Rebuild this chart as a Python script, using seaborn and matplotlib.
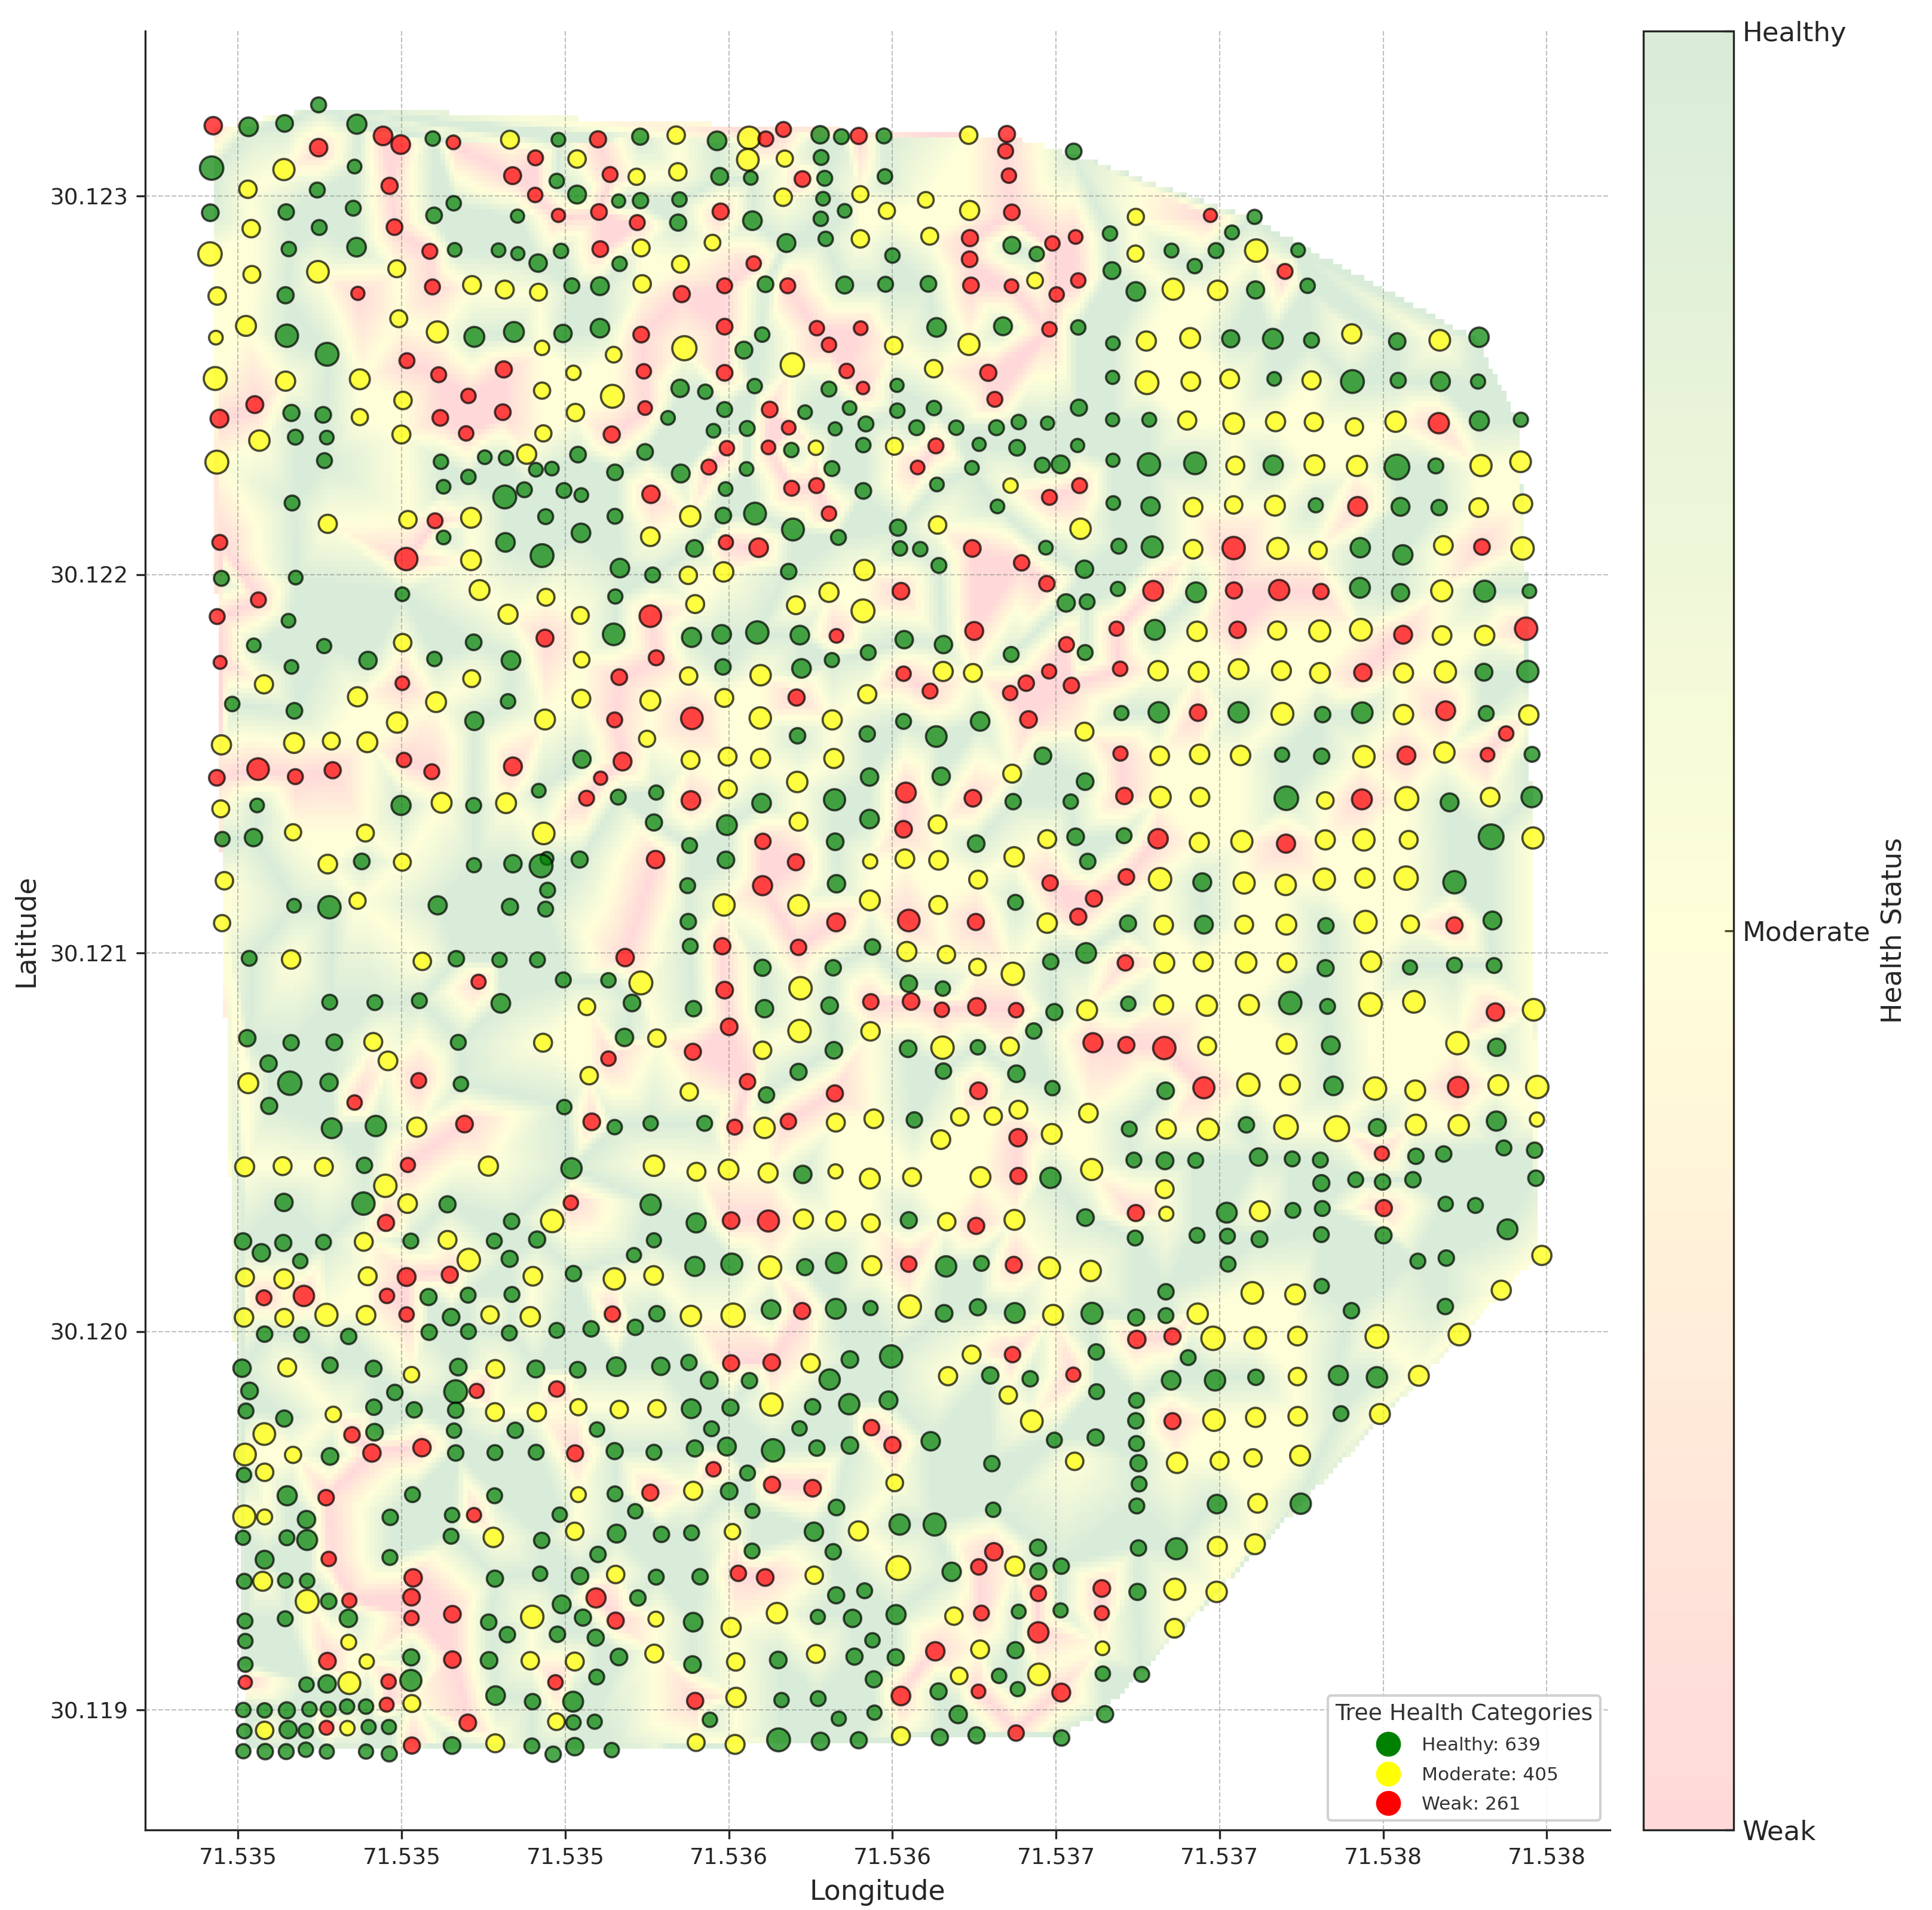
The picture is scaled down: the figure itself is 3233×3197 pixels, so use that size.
# Tree health survey map
import numpy as np
import pandas as pd
import matplotlib
matplotlib.use("Agg")
import matplotlib.pyplot as plt
import seaborn as sns
from matplotlib.colors import LinearSegmentedColormap
from matplotlib.lines import Line2D
from matplotlib.tri import Triangulation, LinearTriInterpolator

# Trees, block by block
# (longitude - 71.534 in 1e-6 deg, latitude - 30.118 in 1e-6 deg, crown size, status)
trees_north_west = [
(424,5186,7,'W'),(532,5183,7.5,'H'),(642,5192,6.7,'H'),(746,5241,6,'H'),(863,5190,7.7,'H'),(943,5159,7.5,'W'),(997,5136,7.5,'W'),(1095,5152,5.8,'H'),(1158,5142,5.5,'W'),(1331,5149,7.2,'M'),(1479,5149,5.5,'H'),(1600,5150,6.5,'W'),(1729,5157,6.5,'H'),(746,5128,7,'W'),(1409,5101,6,'W'),(1536,5098,7,'M'),(419,5074,9.4,'H'),(640,5070,8.5,'M'),(856,5078,5.5,'H'),(1339,5054,6.8,'W'),(1474,5040,5.8,'H'),(1637,5057,6,'W'),(1718,5051,6.5,'M'),(530,5018,7,'M'),(742,5016,6,'H'),(963,5027,6.5,'W'),(1408,5003,5.8,'W'),(1536,5004,7.2,'H'),(1663,4987,5.3,'H'),(1730,4988,6.2,'H'),
(415,4956,6.7,'H'),(647,4958,6.2,'H'),(852,4968,6,'H'),(1159,4981,5.8,'H'),(1099,4949,6.3,'H'),(1354,4947,5.3,'H'),(1479,4949,5.3,'W'),(1603,4958,6.3,'W'),(1720,4930,6,'W'),(540,4914,7,'M'),(748,4917,6,'H'),(978,4918,6.3,'W'),(414,4847,9.4,'M'),(655,4860,5.8,'H'),(862,4865,7.5,'H'),(1086,4854,6,'W'),(1162,4858,5.5,'H'),(1296,4857,5.5,'H'),(1355,4848,5.3,'H'),(1487,4855,5.8,'H'),(1607,4860,6.3,'W'),(1732,4863,6.8,'M'),(1417,4823,7,'H'),(1666,4821,5.8,'H'),(985,4808,6.8,'M'),(542,4793,6.8,'M'),(744,4800,8.7,'M'),
(436,4736,7,'M'),(645,4738,6.5,'H'),(866,4743,5.3,'W'),(1094,4760,6,'W'),(1215,4765,7.2,'M'),(1315,4753,7.2,'M'),(1418,4746,6.8,'M'),(1520,4763,6,'H'),(1606,4762,7.2,'H'),(1735,4768,7,'M'),(991,4676,6.8,'M'),(524,4657,8,'M'),(432,4626,5.5,'M'),(649,4631,9,'H'),(1109,4641,8.5,'M'),(1222,4628,8,'H'),(1343,4641,8,'H'),(1493,4637,7,'H'),(1606,4651,7.5,'H'),(1732,4634,6.3,'W'),(1429,4599,5.8,'M'),(1648,4581,6.3,'M'),(772,4582,9.2,'H'),(1016,4565,6,'W'),
(430,4518,9.2,'M'),(645,4511,7.7,'M'),(872,4516,8,'M'),(1113,4528,6,'W'),(1312,4542,6.5,'W'),(1525,4533,5.8,'M'),(1740,4537,5.8,'W'),(1429,4486,6.5,'M'),(1644,4471,9.2,'M'),(1004,4460,7,'M'),(1204,4472,5.8,'W'),(551,4449,6.8,'W'),(443,4412,7.2,'W'),(663,4427,6.5,'H'),(760,4422,6.3,'H'),(872,4416,6.5,'M'),(1118,4414,6.3,'W'),(1309,4429,6.3,'W'),(1531,4428,7,'M'),(1744,4440,5.5,'W'),(565,4354,8.2,'M'),(675,4363,6,'H'),(771,4362,5.5,'H'),(999,4370,7.2,'M'),(1197,4373,5.8,'W'),(1433,4373,6.5,'M'),(1642,4370,6.5,'W'),
(435,4297,9.2,'M'),(764,4301,6,'H'),(1120,4298,5.8,'H'),(1254,4310,5.5,'H'),(1319,4308,5.8,'H'),(1382,4318,7.7,'M'),(1539,4317,6.3,'H'),(1744,4324,6.3,'H'),(1410,4277,5.5,'H'),(1459,4280,5.5,'H'),(1652,4270,6.3,'H'),(1204,4258,5.8,'H'),(1128,4232,5.5,'H'),(1315,4205,9.2,'H'),(1375,4224,6,'H'),(1496,4222,6,'H'),(1549,4210,5.5,'H'),(1762,4212,7,'W'),(665,4189,6,'H'),
]
trees_north = [
(1839,5161,7,'M'),(1964,5146,7.5,'H'),(2062,5154,9,'M'),(2113,5151,6,'W'),(2167,5176,6,'W'),(2279,5162,7,'H'),(2344,5157,6,'H'),(2397,5159,6.5,'W'),(2474,5159,6,'H'),(2733,5161,7,'M'),(2850,5164,6.5,'W'),(2846,5119,6,'W'),(3054,5118,6.3,'H'),(2058,5096,8.7,'M'),(2171,5099,6.5,'M'),(2282,5102,6,'H'),(1844,5064,7,'M'),(1972,5052,6.8,'H'),(2067,5048,5.5,'H'),(2225,5045,6.3,'W'),(2293,5047,6,'H'),(2477,5052,5.8,'H'),(2856,5054,5.8,'W'),
(1849,4991,5.8,'H'),(2166,4997,7,'M'),(2288,4993,5.5,'H'),(2402,5005,6.5,'M'),(2602,4990,6.3,'M'),(1975,4959,6.5,'W'),(2354,4961,5.5,'H'),(2483,4961,6.5,'M'),(2736,4962,7.7,'M'),(2865,4957,6.3,'W'),(1845,4930,6.5,'H'),(2072,4935,7.5,'H'),(2281,4940,5.8,'H'),(3165,4901,5.8,'H'),(1950,4877,6.3,'M'),(2176,4876,7.2,'H'),(2296,4887,5.8,'H'),(2402,4887,7,'M'),(2614,4894,6.8,'M'),(2737,4889,6.5,'W'),(2865,4870,6.8,'H'),(2989,4875,5.8,'W'),(3060,4892,5.5,'W'),(2500,4843,5.8,'H'),(2941,4847,5.8,'H'),(1852,4820,6.8,'M'),(2076,4822,5.8,'W'),(2736,4833,6.3,'W'),(3171,4803,6.8,'H'),
(1987,4763,6,'W'),(2112,4767,6.3,'H'),(2180,4763,6,'W'),(2354,4765,6.8,'H'),(2479,4767,6,'H'),(2610,4768,6.3,'H'),(2740,4764,6.3,'W'),(2864,4762,5.5,'W'),(2936,4777,6.3,'M'),(3068,4777,5.8,'W'),(1856,4741,6.5,'W'),(3002,4740,5.8,'W'),(1987,4655,6.3,'W'),(2102,4634,5.8,'H'),(2269,4651,5.8,'W'),(2403,4651,5.5,'W'),(2635,4653,7.5,'H'),(2838,4656,7.2,'H'),(2980,4648,5.8,'W'),(3068,4653,5.8,'H'),(3174,4611,5.5,'H'),
(1864,4598,9.7,'M'),(2046,4593,6.8,'H'),(2306,4607,5.8,'W'),(2504,4605,7,'M'),(2734,4608,8.5,'M'),(2194,4554,9.4,'M'),(1987,4533,6.3,'W'),(2360,4538,5.8,'W'),(2626,4544,7,'M'),(2793,4533,6.5,'W'),(3173,4521,5.3,'H'),(1851,4492,7,'H'),(1928,4483,5.8,'H'),(2079,4498,5.8,'H'),(2306,4490,6,'H'),(2410,4493,5,'W'),(2514,4500,5.3,'H'),(2813,4463,6,'W'),(1987,4436,6,'H'),(2125,4436,6.3,'W'),(2233,4429,5.5,'H'),(2369,4440,5.5,'H'),(2515,4433,5.8,'H'),(2627,4440,5.8,'H'),(3070,4441,6.5,'H'),
(3173,4409,5.3,'H'),(1814,4414,5.5,'H'),(1953,4380,5.5,'H'),(2056,4386,6,'H'),(2183,4388,5.5,'W'),(2325,4385,5.3,'H'),(2419,4398,6,'H'),(2574,4388,6,'H'),(2695,4388,5.8,'H'),(2818,4388,6,'H'),(2886,4403,5.8,'H'),(2974,4400,5.3,'H'),(1994,4334,5.8,'W'),(2121,4336,5.5,'W'),(2191,4329,5.8,'H'),(2266,4335,5.8,'M'),(2411,4342,5.8,'H'),(2506,4339,6.8,'M'),(2633,4340,6,'W'),(2765,4344,5.3,'H'),(2881,4335,6.3,'H'),(3066,4341,5.3,'H'),(3174,4302,5.3,'H'),
(1853,4267,7.2,'H'),(1939,4284,6,'W'),(2054,4279,5.5,'H'),(2315,4280,6,'H'),(2577,4283,5.5,'W'),(2743,4282,5.5,'H'),(2958,4289,6,'H'),(3014,4291,7.2,'H'),(1990,4226,5.5,'H'),(2192,4228,6,'W'),(2268,4235,6,'W'),(2411,4221,6.3,'H'),(2636,4238,5.5,'H'),(2861,4235,5.8,'M'),(3072,4235,6,'W'),(2980,4204,6,'W'),(2821,4180,5.5,'H'),(3175,4189,5.5,'H'),
]
trees_north_east = [
(3244,4945,6.5,'M'),(3472,4949,5.3,'W'),(3607,4945,5.7,'H'),(3538,4904,5.6,'H'),(3243,4848,6.5,'M'),(3353,4856,5.6,'H'),(3489,4856,6,'H'),(3612,4856,9,'M'),(3740,4857,5.5,'H'),(3424,4815,5.8,'H'),(3700,4801,6,'W'),(3244,4748,7.5,'H'),(3358,4754,8.5,'M'),(3494,4751,7.8,'M'),(3610,4752,6.9,'H'),(3769,4763,5.8,'H'),
(3276,4617,7.7,'M'),(3410,4625,8,'M'),(3534,4623,6.9,'H'),(3663,4623,8,'H'),(3781,4619,6,'H'),(3904,4636,7.7,'M'),(4043,4616,6.6,'H'),(4173,4619,8.3,'M'),(4293,4627,7.8,'H'),(3278,4507,9.2,'M'),(3412,4510,7.5,'M'),(3531,4517,7.5,'M'),(3667,4517,5.5,'H'),(3781,4513,7.3,'M'),(3906,4510,9.2,'H'),(4046,4513,6.1,'H'),(4175,4510,7.6,'H'),(4290,4510,5.7,'H'),
(3285,4409,5.6,'H'),(3401,4407,7.3,'M'),(3543,4399,8.3,'M'),(3671,4404,7.7,'M'),(3788,4403,7.3,'M'),(3912,4390,7,'M'),(4038,4404,8.2,'M'),(4170,4400,8.2,'W'),(4294,4406,7.7,'H'),(4421,4409,5.7,'H'),(3284,4291,9,'H'),(3425,4294,8.8,'H'),(3548,4288,7.2,'M'),(3664,4289,7.8,'H'),(3790,4289,8,'M'),(3920,4287,8.1,'M'),(4042,4284,10,'H'),(4161,4287,6,'H'),(4299,4288,8.5,'M'),(4420,4298,8.3,'M'),
(3289,4180,7.4,'H'),(3419,4178,7.5,'M'),(3543,4184,7,'M'),(3669,4182,8,'M'),(3794,4183,5.7,'H'),(3922,4180,7.6,'W'),(4053,4179,7.2,'H'),(4171,4177,6.2,'H'),(4292,4177,7.5,'M'),(4427,4187,7.5,'M'),
]
trees_west = [
(774,4134,7.3,'M'),(1019,4145,7,'M'),(1102,4142,6,'W'),(1212,4150,8,'M'),(1440,4153,6,'H'),(1652,4154,6,'H'),(1548,4110,7.5,'H'),(1128,4098,5.5,'H'),(444,4085,6,'W'),(1317,4085,7.5,'H'),(1760,4100,7.5,'M'),(1014,4041,9,'W'),(1212,4038,8,'M'),(1429,4050,9.2,'H'),(1667,4017,7.5,'H'),(449,3990,6,'H'),(676,3992,5.5,'H'),(1767,3999,6,'H'),
(1002,3948,5.5,'H'),(1238,3959,8,'M'),(1441,3940,6.8,'M'),(1653,3942,5.7,'H'),(562,3933,6,'W'),(436,3889,6,'W'),(654,3878,5.5,'H'),(1325,3895,7.7,'M'),(1546,3892,6.8,'M'),(1760,3890,8.7,'W'),(1648,3842,8.7,'H'),(1003,3820,7,'M'),(1220,3821,6.3,'H'),(1438,3832,6.8,'W'),(548,3813,5.5,'H'),(763,3811,5.7,'H'),
(1334,3773,7.5,'H'),(897,3773,7,'H'),(1100,3777,5.8,'H'),(445,3768,5.2,'W'),(663,3756,5.5,'H'),(1550,3775,6.3,'M'),(1778,3780,6,'W'),(1002,3713,5.5,'W'),(1214,3725,6.8,'M'),(1665,3729,6.3,'W'),(579,3710,7.3,'M'),(865,3677,7.7,'M'),(1549,3672,7.2,'M'),(1760,3667,8,'M'),(1105,3663,8,'M'),(482,3658,5.8,'H'),(1325,3665,5.8,'H'),(672,3640,6.3,'H'),
(986,3609,8.2,'M'),(1222,3613,7.3,'H'),(1438,3617,8,'M'),(1651,3616,6,'W'),(449,3550,7.7,'M'),(671,3555,8,'M'),(785,3560,6.8,'M'),(895,3557,8,'M'),(1750,3566,6.5,'M'),(1551,3512,7,'H'),(1675,3506,7.2,'W'),(1007,3510,5.8,'W'),(1340,3493,7.2,'W'),(561,3486,8.7,'W'),(789,3483,6.5,'W'),(1092,3479,6,'W'),(435,3463,6.3,'W'),(675,3466,6,'W'),(1608,3462,5.3,'W'),
(1419,3429,5.5,'H'),(1662,3412,6,'H'),(1778,3424,5.7,'H'),(1565,3409,6,'W'),(998,3390,7.7,'H'),(1122,3397,8,'M'),(1319,3396,8,'M'),(1220,3390,6,'H'),(558,3390,5.5,'H'),(447,3381,6.8,'M'),(1771,3345,6.5,'H'),(668,3319,6.5,'M'),(889,3317,6.8,'M'),(547,3305,7,'H'),(452,3301,5.8,'H'),(1434,3316,8.7,'M'),(1776,3247,7,'W'),(1444,3250,5.2,'H'),(1426,3230,9.2,'H'),(1544,3247,6.5,'H'),
(878,3242,6.3,'H'),(774,3235,7.5,'M'),(1002,3240,6.8,'M'),(1221,3232,5.7,'H'),(1340,3236,7,'H'),(1446,3166,6,'H'),(458,3191,7,'M'),(671,3125,5.5,'H'),(779,3121,9,'H'),(865,3138,6.5,'M'),(1110,3126,7.3,'H'),(1331,3122,6.5,'H'),(1440,3116,6,'H'),(451,3079,6.5,'M'),
]
trees_centre = [
(1882,4154,8.2,'M'),(1983,4156,6.3,'H'),(2080,4161,8.8,'H'),(2196,4119,8.8,'H'),(2306,4161,5.8,'W'),(2335,4098,6,'H'),(2517,4124,6.5,'H'),(2638,4131,7,'M'),(3075,4121,8.2,'M'),(1895,4069,6.7,'H'),(1991,4085,5.7,'W'),(2091,4071,7.5,'W'),(2523,4069,5.8,'H'),(2585,4067,5.8,'H'),(2744,4069,6.7,'W'),(2969,4071,5.5,'H'),(2895,4031,6.2,'W'),(2642,4024,6,'H'),(1876,3998,7,'M'),(1984,4007,7.8,'M'),(2183,4008,6.2,'H'),(2414,4012,8.2,'M'),(3087,4014,7,'H'),
(2972,3976,6.2,'W'),(2526,3956,6.7,'W'),(2306,3953,7.7,'M'),(1897,3922,7.2,'M'),(2205,3919,7.2,'M'),(2410,3904,9.2,'M'),(3031,3925,7,'H'),(3095,3928,6,'H'),(2750,3851,7.2,'W'),(1886,3834,7.7,'H'),(1978,3842,7.5,'H'),(2087,3847,9,'H'),(2217,3840,7.5,'H'),(2329,3838,5.5,'W'),(2536,3828,7,'H'),(2656,3815,7,'H'),(3032,3815,6,'W'),(2426,3794,6,'H'),(2863,3789,6,'H'),(3089,3794,6,'H'),
(2315,3774,5.7,'H'),(1982,3756,6.2,'H'),(2222,3752,7.5,'H'),(1877,3732,7,'M'),(2097,3734,8.2,'M'),(2534,3738,5.8,'W'),(2655,3744,7.7,'M'),(2746,3740,7.2,'M'),(2979,3744,5.7,'W'),(2909,3713,6.2,'W'),(3047,3707,6.2,'W'),(2860,3687,5.8,'W'),(2615,3692,6,'W'),(2207,3675,6.5,'W'),(1986,3674,7.2,'M'),(2423,3684,7.3,'M'),(1887,3620,8.7,'W'),(2096,3621,8.6,'M'),(2316,3616,7.7,'M'),(2534,3612,6,'H'),(2768,3612,7.5,'H'),(2916,3617,6.7,'W'),
(2210,3574,6.2,'H'),(2423,3579,6.2,'H'),(2634,3572,8.3,'H'),(3087,3585,7.2,'M'),(1883,3510,7.2,'M'),(1996,3519,7.2,'M'),(2097,3514,7.7,'M'),(2321,3514,7.7,'M'),(2960,3521,6.7,'H'),(2430,3465,7,'H'),(2649,3467,7,'H'),(2866,3474,7.2,'M'),(2209,3452,8.2,'M'),(3089,3453,6.7,'H'),(1997,3433,7.2,'M'),(2541,3424,8,'W'),(1884,3403,7.5,'W'),(2100,3396,7.5,'H'),(2323,3405,8.5,'H'),(2746,3409,6.7,'W'),(2869,3400,6.2,'H'),(3045,3400,5.8,'H'),
(2213,3347,7.2,'M'),(2430,3354,7.5,'H'),(1994,3338,8,'H'),(2534,3327,6.7,'W'),(2638,3340,7.2,'M'),(3060,3307,6.7,'H'),(2973,3301,7.2,'M'),(1880,3284,6,'H'),(2104,3295,6.2,'W'),(2325,3294,6.7,'H'),(2756,3289,6.7,'H'),(1991,3246,6.7,'H'),(2205,3240,6.5,'W'),(2432,3242,5.7,'M'),(2538,3249,7.5,'M'),(2641,3245,7.5,'M'),(2872,3254,7.8,'M'),(3097,3242,6.2,'H'),
(1874,3178,6,'H'),(2103,3178,7.7,'W'),(2329,3183,7,'H'),(2762,3194,7.2,'M'),(2982,3185,6.2,'W'),(1985,3127,8.6,'M'),(2213,3126,8.3,'M'),(2431,3139,8,'M'),(2640,3127,7.2,'M'),(2876,3134,6,'H'),(3116,3144,6.5,'W'),(1876,3083,6.2,'H'),(2328,3081,7.2,'W'),(2550,3086,8.7,'W'),(2755,3082,6.5,'W'),(2973,3079,7.8,'M'),(3068,3096,6.5,'W'),
]
trees_east = [
(3192,4075,6,'H'),(3294,4073,8.5,'H'),(3419,4067,7.5,'M'),(3543,4070,9,'W'),(3678,4069,8.5,'M'),(3801,4064,7,'M'),(3930,4071,7.8,'H'),(4060,4052,7.8,'H'),(4184,4077,7.5,'M'),(4302,4073,6.3,'W'),(4426,4069,9,'M'),
(3189,3962,5.7,'H'),(3297,3957,8,'W'),(3428,3953,8,'H'),(3544,3958,6.5,'W'),(3682,3959,8.2,'W'),(3810,3955,6.2,'W'),(3929,3965,8,'H'),(4053,3952,7,'H'),(4179,3957,8.5,'M'),(4310,3956,8.5,'H'),(4447,3956,5.5,'H'),
(3185,3857,5.7,'W'),(3302,3854,8,'H'),(3431,3850,7.8,'M'),(3555,3854,6.6,'W'),(3676,3852,7.3,'M'),(3806,3851,8.5,'M'),(3932,3854,8.8,'M'),(4061,3841,7.2,'W'),(4180,3839,7.5,'M'),(4310,3839,7.8,'M'),(4437,3857,9,'W'),
(3196,3751,5.8,'W'),(3312,3746,7.8,'M'),(3436,3743,8,'M'),(3558,3750,8,'M'),(3689,3746,7.6,'M'),(3807,3740,8,'M'),(3938,3741,7,'W'),(4062,3740,7.7,'M'),(4190,3743,8.6,'M'),(4308,3742,6.8,'H'),(4442,3744,8.6,'H'),
(3200,3634,5.7,'H'),(3314,3636,8.2,'H'),(3434,3635,6.6,'W'),(3558,3636,8.2,'H'),(3692,3632,8.8,'M'),(3815,3630,6.2,'H'),(3936,3635,8.3,'H'),(4062,3630,7.8,'M'),(4191,3640,7.6,'W'),(4315,3633,6,'H'),(4445,3629,7.8,'M'),(4376,3580,5.8,'W'),
(3197,3527,5.7,'W'),(3317,3521,7.5,'M'),(3439,3525,7.8,'M'),(3564,3522,7.8,'M'),(3691,3524,5.7,'H'),(3812,3520,6.2,'H'),(3941,3519,8.6,'M'),(4071,3522,7.2,'W'),(4187,3530,8.2,'M'),(4319,3524,5.5,'W'),(4455,3525,6,'H'),
(3209,3415,6.6,'W'),(3319,3412,8.3,'M'),(3440,3412,7.5,'M'),(3704,3409,9.5,'H'),(3823,3403,6.7,'M'),(3935,3406,8,'W'),(4072,3408,9.3,'M'),(4203,3398,7.2,'H'),(4327,3412,7.5,'M'),(4454,3412,8.2,'H'),
(3208,3310,6,'H'),(3312,3302,7.8,'W'),(3438,3292,7.7,'M'),(3568,3295,8.5,'M'),(3703,3289,7.3,'W'),(3823,3299,7.7,'M'),(3941,3299,8.6,'M'),(4078,3299,7.2,'M'),(4330,3307,10,'H'),(4458,3304,8.5,'M'),
(3215,3201,6.3,'W'),(3318,3195,9,'M'),(3447,3187,7.2,'H'),(3575,3185,8.5,'M'),(3702,3180,8.2,'M'),(3820,3195,8.6,'M'),(3944,3198,7.8,'M'),(4070,3198,9.4,'M'),(4218,3187,9,'H'),
(3220,3078,6.5,'H'),(3329,3074,7.5,'M'),(3452,3075,7.2,'H'),(3575,3075,7.2,'M'),(3704,3075,8,'M'),(3825,3072,6.2,'H'),(3946,3082,9,'M'),(4083,3076,7,'M'),(4218,3073,6.5,'W'),(4334,3086,7.2,'H'),
(3212,2974,6.2,'W'),(3331,2974,8,'M'),(3450,2977,7.7,'M'),(3581,2975,8.3,'M'),(3706,2974,7.6,'M'),(3824,2960,6.5,'H'),(3963,2977,8.2,'M'),(4082,2962,5.7,'H'),(4218,2968,6,'H'),(4339,2967,6,'H'),
(3221,2866,5.8,'H'),(3329,2863,7.7,'M'),(3461,2861,8.2,'M'),(3590,2863,8,'M'),(3716,2868,9,'H'),(3830,2859,6,'H'),(3961,2864,9.2,'M'),(4094,2871,8.7,'M'),(4343,2844,7,'W'),(4460,2850,8.7,'M'),
(3215,2757,6.5,'W'),(3331,2749,9,'W'),(3462,2754,7.2,'M'),(3705,2760,8,'M'),(3840,2756,7.2,'H'),(4227,2762,9,'M'),(4347,2751,7,'H'),
(3335,2636,6.7,'H'),(3452,2644,8.5,'W'),(3588,2652,9,'M'),(3715,2652,8,'M'),(3848,2649,7.5,'H'),(3975,2642,9,'M'),(4098,2637,8,'M'),(4229,2646,8.2,'W'),(4352,2651,8,'M'),(4471,2646,9,'M'),
]
trees_mid_west = [
(534,2986,6,'H'),(662,2983,7.4,'M'),(1063,2978,7,'M'),(1167,2985,6.2,'H'),(1299,2982,5.8,'H'),(1415,2982,6,'H'),(1683,2988,7,'W'),(1235,2924,5.7,'W'),(1494,2929,6,'H'),(1632,2928,5.8,'H'),(1731,2921,9.2,'M'),(780,2870,6,'H'),(918,2869,6,'H'),(1054,2874,6,'H'),(1303,2867,7.5,'H'),(1566,2858,6.7,'M'),(1704,2868,6.7,'H'),
(528,2775,6.6,'H'),(662,2763,6.2,'H'),(794,2764,6.4,'H'),(913,2765,7.2,'M'),(1173,2764,6,'H'),(1432,2763,7.2,'M'),(1681,2777,7,'H'),(1780,2775,7,'M'),(958,2715,7.5,'M'),(593,2708,6.6,'H'),(1632,2721,5.8,'W'),(531,2656,8,'M'),(658,2656,9.4,'H'),(778,2658,7,'H'),(1052,2663,6,'W'),(1181,2654,5.8,'H'),(1573,2676,7,'M'),(856,2605,5.8,'W'),(595,2596,6.5,'H'),(1497,2593,5.8,'H'),
(786,2537,8,'H'),(921,2543,8.2,'H'),(1046,2540,7.7,'M'),(1192,2548,6.7,'W'),(1581,2554,6.7,'W'),(1651,2540,5.8,'H'),(1761,2550,5.8,'H'),(520,2435,7.6,'M'),(636,2437,7.2,'M'),(762,2435,7.2,'M'),(886,2439,6.2,'H'),(1019,2440,5.7,'W'),(1265,2437,7.7,'M'),(1519,2431,8.2,'H'),(1771,2438,8.2,'M'),(950,2385,9,'M'),(640,2341,7,'H'),(883,2338,9,'H'),(1018,2338,7.5,'M'),(1140,2336,6.5,'H'),(1517,2340,5.8,'W'),(1761,2335,8.2,'H'),
(952,2287,6.5,'W'),(1336,2291,6.2,'H'),(1460,2292,9,'M'),(515,2238,6.6,'H'),(638,2234,6.5,'H'),(761,2236,6,'H'),(884,2237,7.2,'M'),(1028,2239,6,'H'),(1140,2242,7.2,'M'),(1283,2239,6,'H'),(1414,2243,6.5,'H'),(1771,2241,5.7,'H'),(571,2208,7,'H'),(690,2186,5.8,'H'),(1205,2189,9,'M'),(1330,2192,6.5,'H'),(1710,2202,5.7,'H'),
(521,2143,7.2,'M'),(640,2139,7.7,'M'),(896,2146,7.2,'M'),(1015,2144,7.2,'W'),(1147,2150,6.5,'W'),(1401,2146,7.5,'M'),(1525,2153,6.2,'H'),(1650,2139,8.6,'M'),(1770,2148,7.5,'M'),(579,2089,6,'W'),(701,2094,8.2,'W'),(955,2094,5.8,'W'),(1082,2091,6.5,'H'),(1203,2096,6,'H'),(1337,2098,6,'H'),
(518,2037,7.4,'M'),(641,2036,7.2,'M'),(770,2044,8.9,'M'),(891,2043,7.5,'M'),(1015,2045,5.8,'W'),(1151,2038,6.7,'H'),(1270,2044,7,'M'),(1393,2039,7.8,'M'),(1644,2046,6.2,'W'),(1780,2047,6.2,'H'),(581,1993,6.2,'H'),(694,1991,6,'H'),(838,1987,6.2,'H'),(1084,1998,6.2,'H'),(1204,2000,6,'H'),(1329,1996,6,'H'),(1474,2003,6,'H'),(1579,2007,6.2,'H'),(1714,2011,6.2,'H'),
]
trees_mid = [
(1882,3018,6,'H'),(1980,3018,6.5,'W'),(2213,3015,6.2,'W'),(2439,3016,6.2,'H'),(2544,3004,7.7,'M'),(2665,2996,7,'M'),(3092,3000,8,'H'),(2984,2977,6.2,'H'),(2760,2963,6.7,'M'),(2868,2945,9,'M'),(2103,2961,6.5,'H'),(2319,2961,6.2,'H'),(2550,2919,6.7,'H'),(2654,2906,5.8,'H'),(1987,2902,6.7,'W'),(2219,2907,9,'M'),
(1892,2853,6.2,'H'),(2109,2853,7,'H'),(2308,2861,6.7,'H'),(2434,2871,6.2,'W'),(2557,2872,6.7,'W'),(2651,2850,5.8,'W'),(2758,2858,7,'W'),(2878,2849,5.8,'W'),(2995,2844,6.5,'H'),(3095,2849,8,'M'),(2001,2805,6.7,'W'),(2216,2794,9,'M'),(2433,2793,7.4,'M'),(2932,2794,6.2,'H'),(3113,2763,7.7,'W'),
(1890,2739,6.5,'W'),(2103,2743,7,'M'),(2321,2743,6.7,'H'),(2548,2747,6.7,'H'),(2653,2750,9,'M'),(2761,2751,5.8,'H'),(2859,2753,7.2,'M'),(2213,2686,6.5,'H'),(2656,2688,6.2,'H'),(2879,2681,6.7,'H'),(2989,2643,5.8,'H'),(2057,2660,6.2,'W'),(1879,2633,7,'M'),(2115,2625,6.2,'H'),(2324,2629,6.5,'W'),(2763,2636,6.7,'W'),
(2885,2586,7.2,'M'),(2182,2555,6.2,'W'),(1926,2550,6,'H'),(2018,2540,6,'W'),(2109,2538,8.2,'M'),(2327,2552,7.2,'M'),(2443,2562,7.5,'M'),(2567,2559,6.2,'H'),(2706,2567,7,'M'),(2808,2569,7,'M'),(3099,2577,7.5,'M'),(2648,2507,7.5,'M'),(2884,2512,7,'W'),(2987,2522,8,'M'),
(1901,2422,7.2,'M'),(1999,2428,8,'M'),(2120,2419,7.7,'M'),(2226,2415,7,'H'),(2326,2423,5.7,'M'),(2431,2404,8,'M'),(2560,2408,7.2,'M'),(2769,2408,8,'M'),(2885,2411,6.5,'W'),(2983,2406,8.2,'H'),(3109,2428,8.5,'M'),
(1900,2287,7.7,'H'),(2007,2293,6.7,'W'),(2121,2292,8.5,'W'),(2228,2297,7.7,'M'),(2327,2292,7.7,'M'),(2434,2286,7.2,'M'),(2550,2294,6.5,'H'),(2666,2290,7,'M'),(2756,2279,6.5,'W'),(2873,2295,8,'M'),(3090,2301,6.7,'H'),
(1896,2172,7.7,'H'),(2009,2178,8.5,'H'),(2126,2169,9,'M'),(2233,2170,6.5,'H'),(2328,2181,8.2,'H'),(2437,2174,7.7,'M'),(2550,2178,6.2,'W'),(2664,2172,8.2,'H'),(2772,2180,6,'H'),(2871,2176,6.5,'W'),(2980,2168,8.5,'M'),(3106,2160,8.2,'M'),
(1884,2041,8.2,'M'),(2013,2043,9.4,'M'),(2129,2058,7.5,'H'),(2224,2054,6.5,'W'),(2327,2060,8,'H'),(2433,2062,5.7,'H'),(2553,2066,9,'M'),(2658,2048,6.7,'H'),(2761,2064,6.5,'H'),(2874,2049,8,'H'),(2991,2044,8,'M'),(3110,2048,8.5,'H'),
]
trees_south_east = [
(3224,2535,6,'H'),(3337,2535,7.7,'M'),(3465,2534,8.6,'M'),(3582,2546,6.2,'H'),(3703,2540,9.5,'M'),(3858,2536,10,'M'),(3982,2539,6.8,'H'),(4100,2546,8.2,'M'),(4231,2545,8.2,'M'),(4346,2556,7.7,'H'),(4470,2560,5.7,'M'),
(3238,2453,6,'H'),(3333,2451,6.8,'H'),(3427,2452,6,'H'),(3619,2461,7,'H'),(3722,2456,6,'H'),(3808,2453,6,'H'),(3996,2470,5.7,'W'),(4100,2463,6.2,'H'),(4185,2469,6.2,'H'),(4369,2485,6,'H'),(4463,2479,6.2,'H'),(3332,2376,7.2,'M'),(3811,2392,6.5,'H'),(3916,2401,6,'H'),(3998,2395,6.2,'H'),(4091,2401,6.2,'H'),(4467,2405,6.2,'H'),
(3244,2313,6.5,'W'),(3337,2311,5.7,'M'),(3522,2314,8,'H'),(3623,2318,8,'M'),(3724,2320,6,'H'),(3814,2325,6,'H'),(4002,2326,6.5,'W'),(4191,2337,5.8,'H'),(4282,2333,6,'H'),(3242,2247,6,'H'),(3431,2254,6,'H'),(3524,2252,6,'H'),(3622,2244,6.4,'H'),(3811,2256,6,'H'),(4001,2254,6.5,'H'),(4380,2270,8,'H'),
(3526,2178,6,'H'),(4106,2186,6,'H'),(4193,2194,6.2,'H'),(4485,2201,7.7,'M'),(3336,2105,6.2,'H'),(3600,2102,8.7,'M'),(3731,2098,8,'M'),(3812,2120,5.8,'H'),(4361,2109,7.7,'M'),(3903,2055,6.2,'H'),(4190,2066,6.2,'H'),(3245,2037,6.5,'H'),(3336,2042,6,'H'),(3433,2047,8.2,'M'),
(3247,1979,7,'W'),(3356,1987,6.5,'W'),(3480,1982,9.4,'M'),(3609,1983,8.7,'M'),(3738,1988,7.5,'M'),(3981,1987,9.2,'M'),(4233,1992,8.7,'M'),(3404,1931,6,'H'),(3352,1871,7.5,'H'),(3486,1871,8.2,'H'),(3611,1879,6.2,'H'),(3738,1881,7,'M'),(3863,1884,7.7,'H'),(3981,1879,8.2,'H'),(4109,1883,8,'M'),
(3246,1818,6,'H'),(3244,1764,6.2,'H'),(3356,1763,6.5,'W'),(3483,1766,8.7,'M'),(3610,1773,7.7,'M'),(3739,1776,7.5,'M'),(3871,1783,6,'H'),(3990,1782,8,'M'),(3246,1704,6,'H'),(3252,1652,6.5,'H'),(3370,1653,8.2,'M'),(3500,1658,7.2,'M'),(3602,1666,7,'M'),(3746,1672,8,'M'),(3254,1597,6,'H'),(3247,1539,6,'H'),(3492,1544,7.5,'H'),(3616,1546,7.5,'M'),(3748,1545,8.2,'H'),
(3252,1428,6.2,'H'),(3368,1426,8.5,'H'),(3493,1432,7.7,'M'),(3608,1438,8,'M'),(3249,1312,6.5,'H'),(3363,1319,8.5,'M'),(3491,1312,8.2,'M'),(3362,1216,7.5,'M'),(3262,1094,6,'H'),
]
trees_south_west = [
(512,1903,7,'H'),(650,1905,7.2,'M'),(781,1911,6.2,'H'),(914,1902,6.4,'H'),(1030,1886,6.2,'M'),(1173,1906,6.7,'H'),(1286,1901,7.2,'M'),(1410,1901,6.8,'H'),(1538,1899,6.3,'H'),(1656,1907,7.5,'H'),(1792,1908,7,'H'),(535,1843,6.7,'H'),(979,1839,6.2,'H'),(1165,1841,9.2,'H'),(1229,1843,5.7,'W'),(1474,1848,6.2,'W'),
(524,1790,6,'H'),(641,1770,6.5,'H'),(791,1781,6.2,'M'),(915,1800,6.2,'H'),(1038,1793,6.2,'H'),(1165,1792,6.2,'H'),(1285,1787,7.2,'M'),(1413,1787,7.4,'M'),(1540,1800,6.5,'M'),(1665,1794,7,'M'),(1780,1796,7,'M'),(580,1729,8.7,'M'),(848,1727,6.2,'W'),(917,1734,6.7,'H'),(1160,1738,5.8,'H'),(1347,1739,6.2,'H'),(1597,1741,5.8,'H'),
(521,1675,8.7,'M'),(668,1674,6.5,'M'),(781,1670,6.7,'H'),(909,1679,7,'W'),(1062,1693,7,'W'),(1165,1679,6.2,'H'),(1285,1680,6,'H'),(1411,1681,6,'H'),(1530,1678,6.5,'W'),(1651,1684,6.5,'H'),(1771,1681,6,'H'),(518,1621,5.8,'H'),(581,1628,7,'M'),(650,1566,7.7,'H'),(769,1561,6.2,'W'),(1033,1569,6,'H'),(1284,1566,6,'H'),(1540,1569,6,'M'),(1652,1571,6,'H'),(1760,1574,6.5,'W'),
(519,1511,8.9,'M'),(581,1510,6,'M'),(709,1503,7,'H'),(965,1509,6.2,'H'),(1154,1515,5.8,'H'),(1221,1515,5.7,'W'),(1483,1516,5.8,'H'),(1714,1525,5.8,'H'),(515,1455,5.7,'H'),(649,1455,6,'H'),(711,1449,8,'H'),(1151,1459,6,'H'),(1280,1456,7.8,'M'),(1428,1448,6.2,'H'),(1529,1472,7,'M'),(1657,1466,7.2,'H'),(1794,1464,6.2,'H'),
(581,1397,7.2,'H'),(777,1399,5.8,'W'),(964,1403,6,'H'),(1600,1411,6.2,'H'),(519,1340,6,'H'),(575,1340,7.6,'M'),(644,1342,5.8,'H'),(711,1341,5.8,'H'),(1035,1349,7,'W'),(1285,1347,6.5,'H'),(1423,1360,5.8,'H'),(1545,1354,6.7,'H'),(1654,1358,7,'M'),(1778,1351,6,'H'),(711,1287,9.2,'M'),(777,1287,6.2,'H'),(840,1289,5.7,'W'),(1030,1298,6.7,'W'),(1489,1279,7.2,'H'),(1594,1296,7.7,'W'),(1722,1296,6.2,'H'),
(521,1235,6,'H'),(644,1241,6,'H'),(837,1242,7,'H'),(1030,1243,5.8,'W'),(1155,1253,6.7,'W'),(1266,1232,6.2,'H'),(1399,1246,9,'M'),(1554,1244,6.5,'H'),(1654,1236,6.5,'W'),(1777,1240,6,'M'),(522,1182,5.8,'H'),(838,1179,6,'M'),(1323,1199,6.2,'H'),(1476,1200,6.2,'H'),(1593,1191,6.5,'H'),(522,1120,5.8,'H'),(773,1129,6.7,'W'),(893,1128,5.8,'M'),(1029,1139,6.5,'H'),(1155,1133,6.7,'W'),(1267,1131,6.7,'H'),(1393,1130,7,'M'),(1529,1128,7.2,'M'),(1664,1140,6.7,'H'),(1772,1149,7.2,'M'),
(522,1073,5.3,'W'),(709,1067,5.8,'H'),(772,1069,7,'H'),(840,1071,8.8,'M'),(960,1075,5.8,'W'),(1028,1078,8.5,'H'),(1470,1073,5.8,'W'),(1596,1087,6,'H'),(1287,1038,7.5,'H'),(1400,1022,6.2,'H'),(1524,1022,8,'H'),(516,1000,5.8,'H'),(581,999,5.8,'H'),(649,999,6.5,'H'),(718,1002,5.8,'H'),(775,1002,6,'H'),(833,1009,5.8,'H'),(891,1009,5.8,'H'),(954,1014,5.6,'W'),(1031,1017,6.8,'M'),
(1202,966,6.7,'W'),(1473,969,6.7,'M'),(1525,967,5.8,'H'),(1590,969,5.7,'H'),(519,944,5.8,'H'),(581,946,7,'M'),(653,948,7,'H'),(707,945,5.8,'H'),(770,953,5.6,'W'),(834,952,5.8,'M'),(899,955,5.7,'H'),(961,955,5.7,'H'),(516,891,5.7,'H'),(583,890,6.2,'H'),(647,890,6,'H'),(707,895,5.8,'H'),(771,890,5.7,'H'),(891,890,5.7,'H'),(962,884,6.1,'H'),(1031,906,6.5,'W'),(1154,906,6.7,'H'),(1286,912,7.2,'M'),(1398,905,6,'H'),(1463,883,6.2,'H'),(1529,903,7,'H'),(1642,894,5.8,'H'),
]
trees_south = [
(1878,1918,6.2,'H'),(2007,1916,6.5,'W'),(2131,1918,6.7,'W'),(2250,1916,7.4,'M'),(2370,1926,6.7,'H'),(2496,1934,9,'H'),(2742,1939,7.2,'M'),(2867,1939,6.2,'W'),(3123,1946,6.2,'H'),(1940,1871,6.8,'H'),(2063,1870,6.2,'H'),(2308,1873,8.2,'H'),(2670,1882,7.3,'M'),(2799,1884,6.6,'H'),(2921,1875,6.2,'H'),(3053,1886,5.7,'W'),(3124,1841,6,'H'),(2854,1832,7,'M'),
(1885,1796,7.6,'H'),(2005,1799,6.5,'H'),(2130,1807,9,'M'),(2256,1801,6.2,'H'),(2368,1808,8.2,'H'),(2488,1818,7.2,'H'),(2926,1763,8.7,'M'),(1947,1743,6,'H'),(2216,1744,5.8,'H'),(2436,1746,6.2,'W'),(2617,1710,7.4,'H'),(2995,1713,6,'H'),(3121,1720,6.5,'H'),(1896,1691,6.5,'H'),(1994,1696,7.2,'H'),(2135,1686,9,'H'),(2269,1692,6.2,'H'),(2370,1699,6.7,'H'),(2500,1700,6.5,'W'),(2804,1651,6.2,'H'),(3057,1657,7,'M'),
(1953,1636,5.8,'W'),(2057,1626,6,'H'),(2132,1595,6.5,'W'),(2256,1586,6.7,'W'),(1891,1579,7.3,'M'),(2001,1578,6.7,'H'),(2507,1600,6.7,'M'),(2072,1526,5.7,'H'),(2329,1535,6.3,'H'),(2808,1529,5.8,'H'),(1886,1468,6,'H'),(2011,1471,6.2,'M'),(2260,1471,7.4,'H'),(2396,1473,7.7,'M'),(2522,1490,8.2,'H'),(2629,1490,8.9,'H'),(2071,1420,6,'H'),(2319,1418,6.2,'H'),(2810,1418,7,'W'),(2945,1429,6.5,'H'),
(2518,1375,9.6,'M'),(2681,1365,7.4,'H'),(2764,1378,6.2,'W'),(2874,1380,7.7,'M'),(2946,1366,6.5,'H'),(3016,1380,6.2,'H'),(1912,1352,6.2,'H'),(2029,1361,6.2,'W'),(2111,1350,6.7,'W'),(2261,1356,7,'M'),(2328,1303,6.5,'H'),(2415,1315,6,'H'),(2946,1308,6.2,'W'),(3140,1321,6.7,'W'),(2147,1256,8.2,'M'),(2272,1246,5.7,'H'),(2378,1242,7,'H'),(2511,1252,7.7,'H'),(2688,1248,7,'M'),(2772,1256,6,'W'),(2886,1260,5.6,'H'),(3014,1263,5.7,'H'),(3140,1256,5.7,'W'),
(1891,1232,7.5,'H'),(2007,1218,7.7,'M'),(2946,1205,8.2,'W'),(2439,1184,5.8,'H'),(2266,1148,7.2,'M'),(2384,1141,6.5,'H'),(2510,1139,6.5,'H'),(2631,1155,7.4,'W'),(2768,1160,7.2,'M'),(2876,1158,6.5,'H'),(3142,1163,5.5,'M'),(1889,1120,6.7,'H'),(2021,1127,7,'M'),(2151,1132,6.7,'H'),(2443,1081,6.5,'H'),(2704,1090,6.7,'M'),(2826,1090,5.8,'H'),(2948,1094,8.7,'M'),(3143,1096,5.8,'H'),
(1897,1024,6.5,'W'),(2022,1033,7.8,'M'),(2161,1026,5.8,'H'),(2273,1030,6,'H'),(2526,1037,7.5,'W'),(2641,1049,6.5,'H'),(2763,1049,5.5,'W'),(2883,1055,5.7,'H'),(3016,1046,7.2,'W'),(1942,974,5.8,'H'),(2336,977,5.7,'H'),(2445,993,5.7,'H'),(2701,988,7,'H'),(3150,989,6.5,'H'),(1900,914,6.8,'M'),(2019,909,7.6,'M'),(2152,921,9.2,'H'),(2280,917,7,'H'),(2397,920,6.5,'H'),(2526,931,7.2,'M'),(2645,928,6.5,'H'),(2757,933,6.5,'H'),(2878,939,6.2,'W'),(3017,926,6.2,'H'),
]

status_names = ["Healthy", "Moderate", "Weak"]
status_counts = [639, 405, 261]
lon_ticks = [71.5345, 71.5350, 71.5355, 71.5360, 71.5365, 71.5370, 71.5375, 71.5380, 71.5385]
lon_labels = ["71.535", "71.535", "71.535", "71.536", "71.536", "71.537", "71.537", "71.538", "71.538"]
lat_ticks = [30.119, 30.120, 30.121, 30.122, 30.123]
lat_labels = ["30.119", "30.120", "30.121", "30.122", "30.123"]

# Put the blocks together
all_trees = (trees_north_west + trees_north + trees_north_east + trees_west + trees_centre
             + trees_east + trees_mid_west + trees_mid + trees_south_east + trees_south_west + trees_south)
df = pd.DataFrame(all_trees, columns=["lon_off", "lat_off", "crown", "code"])
df["Longitude"] = 71.534 + df["lon_off"] * 1e-6
df["Latitude"] = 30.118 + df["lat_off"] * 1e-6
df["Status"] = df["code"].map({"H": "Healthy", "M": "Moderate", "W": "Weak"})
df["score"] = df["code"].map({"H": 2.0, "M": 1.0, "W": 0.0})
df["area"] = df["crown"] ** 2

sns.set_style("ticks")
plt.rcParams["font.family"] = ["DejaVu Sans"]

fig = plt.figure(figsize=(3233 / 300, 3197 / 300), dpi=300)
ax = fig.add_axes([243 / 3233, 1 - 3063 / 3197, (2694 - 243) / 3233, (3063 - 52) / 3197])
cax = fig.add_axes([2750 / 3233, 1 - 3063 / 3197, 151 / 3233, (3063 - 52) / 3197])

# Health surface between the trees, only inside the hull of the points
tri = Triangulation(df["Longitude"], df["Latitude"])
interp = LinearTriInterpolator(tri, df["score"])
grid_x = np.linspace(df["Longitude"].min(), df["Longitude"].max(), 300)
grid_y = np.linspace(df["Latitude"].min(), df["Latitude"].max(), 300)
mesh_x, mesh_y = np.meshgrid(grid_x, grid_y)
surface = interp(mesh_x, mesh_y)

health_cmap = LinearSegmentedColormap.from_list("health", ["red", "yellow", "green"])
img = ax.imshow(surface, origin="lower", aspect="auto", cmap=health_cmap, vmin=0, vmax=2, alpha=0.15,
                extent=[grid_x[0], grid_x[-1], grid_y[0], grid_y[-1]], zorder=0)

sns.scatterplot(data=df, x="Longitude", y="Latitude", hue="Status", hue_order=status_names,
                palette={"Healthy": "green", "Moderate": "yellow", "Weak": "red"},
                size="area", sizes=(20, 110), size_norm=(20, 110),
                edgecolor="black", linewidth=0.9, alpha=0.7, legend=False, ax=ax, zorder=3)

ax.set_xlim(71.534216, 71.538693)
ax.set_ylim(30.118683, 30.123436)
ax.set_xticks(lon_ticks)
ax.set_xticklabels(lon_labels, fontsize=9)
ax.set_yticks(lat_ticks)
ax.set_yticklabels(lat_labels, fontsize=9)
ax.tick_params(length=3.5, width=0.8, pad=3.5)
ax.set_xlabel("Longitude", fontsize=11, labelpad=4)
ax.set_ylabel("Latitude", fontsize=11, labelpad=4)
ax.grid(True, color="gray", linestyle="--", linewidth=0.5, alpha=0.5, zorder=4)
ax.set_axisbelow(False)
sns.despine(ax=ax)

# Colour bar with the three named levels
cb = fig.colorbar(img, cax=cax)
cb.set_ticks([0, 1, 2])
cb.set_ticklabels(["Weak", "Moderate", "Healthy"], fontsize=10.8)
cb.ax.tick_params(direction="in", length=3.5, width=0.8, pad=3.5)
cb.set_label("Health Status", fontsize=11, labelpad=4)

handles = [Line2D([], [], marker="o", linestyle="none", color=c, markersize=9) for c in ["green", "yellow", "red"]]
labels = [f"{n}: {c}" for n, c in zip(status_names, status_counts)]
leg = ax.legend(handles, labels, title="Tree Health Categories", loc="lower right",
                fontsize=7.5, title_fontsize=9.1, labelcolor="#333333", labelspacing=0.65,
                frameon=True, framealpha=0.9)
leg.get_title().set_color("#333333")

fig.savefig("out.png", dpi=300)
